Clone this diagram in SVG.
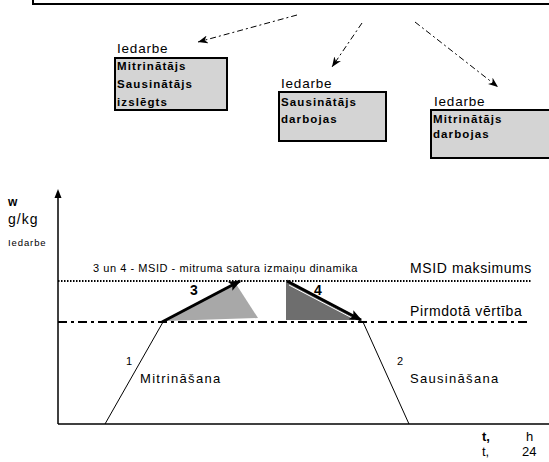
<svg xmlns="http://www.w3.org/2000/svg" width="549" height="462" viewBox="0 0 549 462">
  <style>
    text { font-family: "Liberation Sans", Arial, sans-serif; fill: #000; }
    .lbl { font-size: 13.5px; letter-spacing: 0.8px; }
    .box { fill: #d4d4d4; stroke: #000; stroke-width: 2; }
    .btxt { font-size: 11.5px; font-weight: bold; letter-spacing: 1.1px; }
    .link { fill: none; stroke: #000; stroke-width: 1; stroke-dasharray: 6 3 2 3; }
    .big { font-size: 14px; letter-spacing: 0.6px; }
    .phase { font-size: 13px; letter-spacing: 1.3px; }
    .num { font-size: 11px; }
    .bnum { font-size: 14px; font-weight: bold; }
  </style>
  <defs>
    <marker id="head" viewBox="0 0 10 8" refX="10" refY="4" markerWidth="10" markerHeight="8" markerUnits="userSpaceOnUse" orient="auto">
      <path d="M0,0 L10,4 L0,8 L3,4 z" fill="#000"/>
    </marker>
    <marker id="headBig" viewBox="0 0 10 8" refX="9" refY="4" markerWidth="13" markerHeight="10" markerUnits="userSpaceOnUse" orient="auto">
      <path d="M0,0 L10,4 L0,8 L2,4 z" fill="#000"/>
    </marker>
  </defs>

  <!-- frame edge at the top -->
  <path d="M33,0 V4 H549" fill="none" stroke="#000" stroke-width="2"/>

  <!-- state boxes -->
  <g id="state-off">
    <text class="lbl" x="117" y="53">Iedarbe</text>
    <rect class="box" x="115" y="58" width="112" height="52"/>
    <text class="btxt" x="117" y="70">Mitrinātājs</text>
    <text class="btxt" x="117" y="88">Sausinātājs</text>
    <text class="btxt" x="117" y="106">izslēgts</text>
  </g>
  <g id="state-dry">
    <text class="lbl" x="281" y="88">Iedarbe</text>
    <rect class="box" x="279" y="92" width="107" height="49"/>
    <text class="btxt" x="281" y="106">Sausinātājs</text>
    <text class="btxt" x="281" y="123">darbojas</text>
  </g>
  <g id="state-wet">
    <text class="lbl" x="434" y="106">Iedarbe</text>
    <rect class="box" x="431" y="110" width="122" height="48"/>
    <text class="btxt" x="433" y="123">Mitrinātājs</text>
    <text class="btxt" x="433" y="138">darbojas</text>
  </g>

  <!-- links from the frame to the states -->
  <g id="connectors">
    <path class="link" d="M297,15 L198,42" marker-end="url(#head)"/>
    <path class="link" d="M362,23 L332,67" marker-end="url(#head)"/>
    <path class="link" d="M415,22 L498,87" marker-end="url(#head)"/>
  </g>

  <!-- humidity chart -->
  <g id="chart">
    <!-- axes -->
    <line x1="58" y1="196" x2="58" y2="424" stroke="#000" stroke-width="1.5"/>
    <path d="M58,189 L54.5,198 L61.5,198 z" fill="#000"/>
    <line x1="58" y1="424" x2="549" y2="424" stroke="#000" stroke-width="1.5"/>
    <text x="8" y="206" font-size="12" font-weight="bold">w</text>
    <text x="8" y="224" font-size="14" letter-spacing="1">g/kg</text>
    <text x="8" y="246" font-size="9.5" letter-spacing="0.9">Iedarbe</text>

    <!-- limits -->
    <line x1="58" y1="281" x2="532" y2="281" stroke="#000" stroke-width="2" stroke-dasharray="1.5 1.5"/>
    <line x1="58" y1="322" x2="530" y2="322" stroke="#000" stroke-width="2" stroke-dasharray="9 4 3 4"/>
    <text x="93" y="272" font-size="11" letter-spacing="0.55">3 un 4 - MSID - mitruma  satura izmaiņu dinamika</text>
    <text class="big" x="410" y="273">MSID maksimums</text>
    <text class="big" x="410" y="316" letter-spacing="0.9">Pirmdotā vērtība</text>

    <!-- rise and fall -->
    <line x1="105" y1="424" x2="163" y2="322" stroke="#000" stroke-width="1"/>
    <line x1="363" y1="322" x2="409" y2="424" stroke="#000" stroke-width="1"/>
    <text class="num" x="126" y="365">1</text>
    <text class="phase" x="140" y="383">Mitrināšana</text>
    <text class="num" x="397" y="365">2</text>
    <text class="phase" x="410" y="383">Sausināšana</text>

    <!-- dynamics 3 -->
    <path d="M165,321 L236,284 L258,318 z" fill="#a8a8a8"/>
    <line x1="162" y1="322" x2="240" y2="281" stroke="#000" stroke-width="3" marker-end="url(#headBig)"/>
    <text class="bnum" x="190" y="295">3</text>

    <!-- dynamics 4 -->
    <path d="M286,281 L286,320 L358,320 z" fill="#6e6e6e"/>
    <line x1="289" y1="285" x2="356" y2="320" stroke="#fff" stroke-width="1"/>
    <line x1="287" y1="281" x2="361" y2="320" stroke="#000" stroke-width="3" marker-end="url(#headBig)"/>
    <text class="bnum" x="314" y="295">4</text>

    <!-- time axis label -->
    <text x="482" y="441" font-size="13" font-weight="bold">t,</text>
    <text x="526" y="441" font-size="13">h</text>
    <text x="482" y="456" font-size="13">t,</text>
    <text x="522" y="456" font-size="13">24</text>
  </g>
</svg>
